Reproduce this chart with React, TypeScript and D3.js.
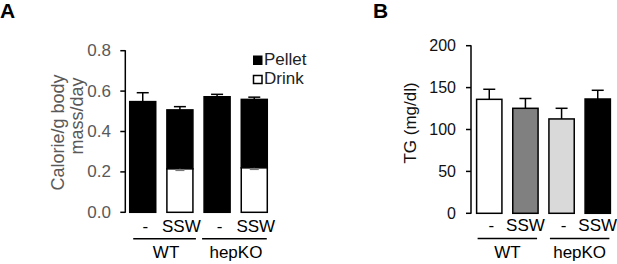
import React from "react";
import * as d3 from "d3";

const categories = ["WT -", "WT SSW", "hepKO -", "hepKO SSW"];
const treatLabels = ["-", "SSW", "-", "SSW"];
const groups = ["WT", "hepKO"];
const groupMembers = [[0, 1], [2, 3]];

// Panel A: calorie intake (stacked)
const drinkA = [0, 0.215, 0, 0.22];
const pelletA = [0.548, 0.292, 0.572, 0.339];
const totalErrA = [0.044, 0.016, 0.012, 0.011];
const drinkErrA = [0, 0.006, 0, 0.006];
const ticksA = [0, 0.2, 0.4, 0.6, 0.8];

// Panel B: TG
const tgB = [136, 125.3, 112.6, 136.4];
const tgErrB = [12, 11.7, 12.7, 10.4];
const ticksB = [0, 50, 100, 150, 200];
const fillsB = ["#ffffff", "#808080", "#d9d9d9", "#000000"];

const FONT = "Arial, 'Liberation Sans', sans-serif";

export default function App() {
  const yA = d3.scaleLinear().domain([0, 0.8]).range([212.3, 50.7]);
  const xA = d3.scaleBand().domain(categories).range([126, 271]).paddingInner(0.3).paddingOuter(0.1);
  const bwA = xA.bandwidth();

  const yB = d3.scaleLinear().domain([0, 200]).range([213.3, 45.7]);
  const xB = d3.scaleBand().domain(categories).range([473, 614]).paddingInner(0.3).paddingOuter(0.1);
  const bwB = xB.bandwidth();

  const axisA = 125.3;
  const axisB = 471;

  return (
    <svg width={617} height={264} style={{ position: "absolute", left: 0, top: 0, background: "#fff" }} fontFamily={FONT}>
      <rect x={0} y={0} width={617} height={264} fill="#fff" />
      {/* Panel labels */}
      <text x={0} y={18} fontSize={21} fontWeight="bold" fill="#000">A</text>
      <text x={373} y={18} fontSize={21} fontWeight="bold" fill="#000">B</text>

      {/* ===== Panel A ===== */}
      <line x1={axisA} x2={axisA} y1={yA(0.8) - 0.5} y2={yA(0) + 0.5} stroke="#000" strokeWidth={1.5} />
      {ticksA.map((t) => (
        <g key={"ta" + t}>
          <line x1={axisA - 5} x2={axisA} y1={yA(t)} y2={yA(t)} stroke="#000" strokeWidth={1.5} />
          <text x={111} y={yA(t) + 5.5} fontSize={17} textAnchor="end" fill="#595959">{t.toFixed(1)}</text>
        </g>
      ))}
      <text transform={`translate(64,132.5) rotate(-90)`} fontSize={18} textAnchor="middle" fill="#595959">Calorie/g body</text>
      <text transform={`translate(83,116) rotate(-90)`} fontSize={18} textAnchor="middle" fill="#595959">mass/day</text>

      {categories.map((c, i) => {
        const x = xA(c)!;
        const total = drinkA[i] + pelletA[i];
        const cx = x + bwA / 2;
        return (
          <g key={"ba" + c}>
            <line x1={cx} x2={cx} y1={yA(total)} y2={yA(total + totalErrA[i])} stroke="#000" strokeWidth={1.5} />
            <line x1={cx - 6} x2={cx + 6} y1={yA(total + totalErrA[i])} y2={yA(total + totalErrA[i])} stroke="#000" strokeWidth={1.5} />
            <rect x={x} y={yA(total)} width={bwA} height={yA(drinkA[i]) - yA(total)} fill="#000" stroke="#000" strokeWidth={1.5} />
            {drinkA[i] > 0 && (
              <g>
                <rect x={x} y={yA(drinkA[i])} width={bwA} height={yA(0) - yA(drinkA[i])} fill="#fff" stroke="#000" strokeWidth={1.5} />
                <line x1={cx} x2={cx} y1={yA(drinkA[i])} y2={yA(drinkA[i] - drinkErrA[i])} stroke="#777" strokeWidth={1.5} />
                <line x1={cx - 4.5} x2={cx + 4.5} y1={yA(drinkA[i] - drinkErrA[i])} y2={yA(drinkA[i] - drinkErrA[i])} stroke="#777" strokeWidth={2} />
              </g>
            )}
            <text x={cx + (treatLabels[i] === "-" ? 2.5 : 1.5)} y={231.7} fontSize={17} textAnchor="middle" fill="#000">{treatLabels[i]}</text>
          </g>
        );
      })}
      {groups.map((g, gi) => {
        const a = xA(categories[groupMembers[gi][0]])!;
        const b = xA(categories[groupMembers[gi][1]])! + bwA;
        const x1 = gi === 0 ? a + 3.5 : a - 2;
        const x2 = gi === 0 ? b + 3 : b - 0.5;
        return (
          <g key={"ga" + g}>
            <line x1={x1} x2={x2} y1={238.8} y2={238.8} stroke="#000" strokeWidth={1.5} />
            <text x={(x1 + x2) / 2 + 1.5} y={258} fontSize={17} textAnchor="middle" fill="#000">{g}</text>
          </g>
        );
      })}
      {/* legend */}
      <rect x={253.5} y={56} width={8.5} height={8.5} fill="#000" stroke="#000" strokeWidth={1} />
      <text x={264} y={65} fontSize={17} fill="#222">Pellet</text>
      <rect x={253.5} y={75.5} width={8.5} height={8} fill="#fff" stroke="#000" strokeWidth={1.5} />
      <text x={264} y={84} fontSize={17} fill="#222">Drink</text>

      {/* ===== Panel B ===== */}
      <line x1={axisB} x2={axisB} y1={yB(200) - 0.5} y2={yB(0) + 0.5} stroke="#000" strokeWidth={1.5} />
      {ticksB.map((t) => (
        <g key={"tb" + t}>
          <line x1={axisB - 5} x2={axisB} y1={yB(t)} y2={yB(t)} stroke="#000" strokeWidth={1.5} />
          <text x={456} y={yB(t) + 5.5} fontSize={16} textAnchor="end" fill="#111">{t}</text>
        </g>
      ))}
      <text transform={`translate(416,123) rotate(-90)`} fontSize={17} textAnchor="middle" fill="#111">TG (mg/dl)</text>
      {categories.map((c, i) => {
        const x = xB(c)!;
        const cx = x + bwB / 2;
        return (
          <g key={"bb" + c}>
            <line x1={cx} x2={cx} y1={yB(tgB[i])} y2={yB(tgB[i] + tgErrB[i])} stroke="#000" strokeWidth={1.5} />
            <line x1={cx - 6} x2={cx + 6} y1={yB(tgB[i] + tgErrB[i])} y2={yB(tgB[i] + tgErrB[i])} stroke="#000" strokeWidth={1.5} />
            <rect x={x} y={yB(tgB[i])} width={bwB} height={yB(0) - yB(tgB[i])} fill={fillsB[i]} stroke="#000" strokeWidth={1.5} />
            <text x={cx + (treatLabels[i] === "-" ? 2 : 0)} y={230.5} fontSize={17} textAnchor="middle" fill="#000">{treatLabels[i]}</text>
          </g>
        );
      })}
      {groups.map((g, gi) => {
        const a = xB(categories[groupMembers[gi][0]])!;
        const b = xB(categories[groupMembers[gi][1]])! + bwB;
        const x1 = a + 1;
        const x2 = b - 1;
        return (
          <g key={"gb" + g}>
            <line x1={x1} x2={x2} y1={238.5} y2={238.5} stroke="#000" strokeWidth={1.5} />
            <text x={(x1 + x2) / 2} y={258} fontSize={17} textAnchor="middle" fill="#000">{g}</text>
          </g>
        );
      })}
    </svg>
  );
}
